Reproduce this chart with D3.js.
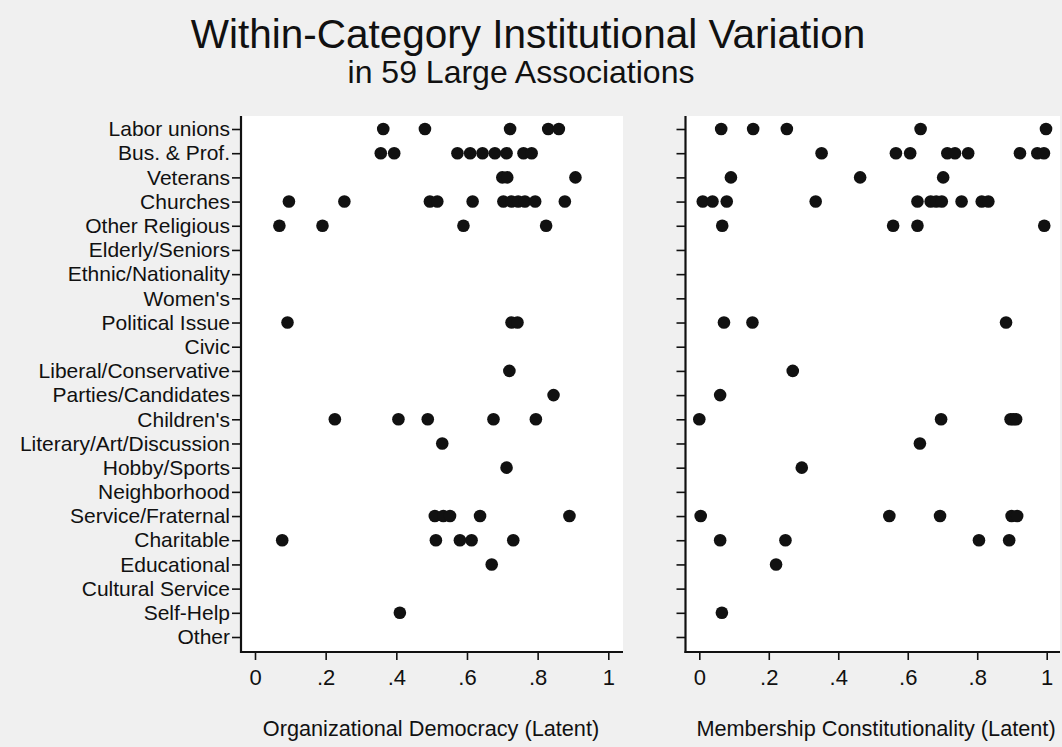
<!DOCTYPE html>
<html>
<head>
<meta charset="utf-8">
<script src="https://cdn.jsdelivr.net/npm/d3@7"></script>
<style>
  html, body { margin: 0; padding: 0; background: #f0f0f0; }
  svg { display: block; font-family: "Liberation Sans", Arial, sans-serif; }
</style>
</head>
<body>
<svg id="chart" width="1062" height="747"></svg>
<script>
// ---------- data ----------
const categories = [
  "Labor unions", "Bus. & Prof.", "Veterans", "Churches", "Other Religious",
  "Elderly/Seniors", "Ethnic/Nationality", "Women's", "Political Issue", "Civic",
  "Liberal/Conservative", "Parties/Candidates", "Children's", "Literary/Art/Discussion",
  "Hobby/Sports", "Neighborhood", "Service/Fraternal", "Charitable", "Educational",
  "Cultural Service", "Self-Help", "Other"
];

// Organizational Democracy (Latent), one list per category
const orgDemocracy = [
  [0.363, 0.481, 0.722, 0.830, 0.860],
  [0.356, 0.394, 0.573, 0.609, 0.644, 0.679, 0.712, 0.760, 0.783],
  [0.700, 0.714, 0.907],
  [0.096, 0.253, 0.495, 0.516, 0.616, 0.703, 0.726, 0.745, 0.764, 0.793, 0.877],
  [0.069, 0.191, 0.590, 0.824],
  [],
  [],
  [],
  [0.092, 0.726, 0.743],
  [],
  [0.720],
  [0.845],
  [0.226, 0.406, 0.489, 0.675, 0.795],
  [0.530],
  [0.712],
  [],
  [0.509, 0.533, 0.552, 0.637, 0.890],
  [0.077, 0.512, 0.580, 0.613, 0.731],
  [0.670],
  [],
  [0.410],
  []
];

// Membership Constitutionality (Latent), one list per category
const memberConst = [
  [0.063, 0.155, 0.252, 0.637, 0.998],
  [0.352, 0.566, 0.607, 0.714, 0.736, 0.774, 0.923, 0.973, 0.992],
  [0.091, 0.463, 0.702],
  [0.010, 0.038, 0.079, 0.335, 0.628, 0.666, 0.682, 0.698, 0.755, 0.813, 0.832],
  [0.066, 0.558, 0.628, 0.993],
  [],
  [],
  [],
  [0.071, 0.153, 0.883],
  [],
  [0.269],
  [0.060],
  [0.000, 0.696, 0.896, 0.904, 0.912],
  [0.635],
  [0.295],
  [],
  [0.004, 0.547, 0.693, 0.899, 0.915],
  [0.060, 0.248, 0.805, 0.892],
  [0.221],
  [],
  [0.065],
  []
];

const xTicks = [0, 0.2, 0.4, 0.6, 0.8, 1];
const xTickLabels = ["0", ".2", ".4", ".6", ".8", "1"];

const titleText = "Within-Category Institutional Variation";
const subtitleText = "in 59 Large Associations";
const leftAxisTitle = "Organizational Democracy (Latent)";
const rightAxisTitle = "Membership Constitutionality (Latent)";

// ---------- layout ----------
const svg = d3.select("#chart");
const W = 1062, H = 747;
const plotTop = 116, plotBottom = 652;

svg.append("rect").attr("width", W).attr("height", H).attr("fill", "#f0f0f0");

const y = d3.scalePoint().domain(categories).range([129, 637]);

const panels = [
  { data: orgDemocracy, frameL: 241, frameR: 623, x0: 255, x1: 608.3, title: leftAxisTitle, tx: 431, labels: true },
  { data: memberConst, frameL: 685.5, frameR: 1060, x0: 699.3, x1: 1046.7, title: rightAxisTitle, tx: 876, labels: false }
];

const ink = "#111";

panels.forEach(p => {
  const x = d3.scaleLinear().domain([0, 1]).range([p.x0, p.x1]);
  const g = svg.append("g");

  g.append("rect")
    .attr("x", p.frameL).attr("y", plotTop)
    .attr("width", p.frameR - p.frameL).attr("height", plotBottom - plotTop)
    .attr("fill", "#ffffff");

  const yAxis = d3.axisLeft(y).tickSize(9).tickPadding(2)
    .tickFormat(p.labels ? (d => d) : (() => ""));
  const ya = g.append("g").attr("transform", `translate(${p.frameL},0)`).call(yAxis);
  ya.select(".domain").remove();
  ya.selectAll(".tick line").attr("stroke", ink).attr("stroke-width", 1.6);
  ya.selectAll(".tick text").attr("fill", ink).style("font-size", "21px")
    .style("font-family", '"Liberation Sans", Arial, sans-serif');
  g.append("line").attr("x1", p.frameL).attr("x2", p.frameL)
    .attr("y1", plotTop).attr("y2", plotBottom + 1)
    .attr("stroke", ink).attr("stroke-width", 2.2);

  const xAxis = d3.axisBottom(x).tickValues(xTicks).tickSize(8).tickPadding(9)
    .tickFormat((d, i) => xTickLabels[i]);
  const xa = g.append("g").attr("transform", `translate(0,${plotBottom})`).call(xAxis);
  xa.select(".domain").remove();
  xa.selectAll(".tick line").attr("stroke", ink).attr("stroke-width", 1.6);
  xa.selectAll(".tick text").attr("fill", ink).style("font-size", "22px")
    .style("font-family", '"Liberation Sans", Arial, sans-serif');
  g.append("line").attr("x1", p.frameL - 1).attr("x2", p.frameR)
    .attr("y1", plotBottom).attr("y2", plotBottom)
    .attr("stroke", ink).attr("stroke-width", 2.2);

  const pts = [];
  p.data.forEach((vals, i) => vals.forEach(v => pts.push({ c: categories[i], v })));
  g.selectAll("circle.dot").data(pts).join("circle")
    .attr("class", "dot")
    .attr("cx", d => x(d.v)).attr("cy", d => y(d.c))
    .attr("r", 6.3).attr("fill", ink);

  g.append("text")
    .attr("x", p.tx).attr("y", 736)
    .attr("text-anchor", "middle").attr("fill", ink)
    .style("font-size", "21.7px")
    .text(p.title);
});

svg.append("text").attr("x", 528).attr("y", 48).attr("text-anchor", "middle")
  .attr("fill", ink).style("font-size", "40.5px").text(titleText);
svg.append("text").attr("x", 521).attr("y", 83).attr("text-anchor", "middle")
  .attr("fill", ink).style("font-size", "32px").text(subtitleText);
</script>
</body>
</html>
